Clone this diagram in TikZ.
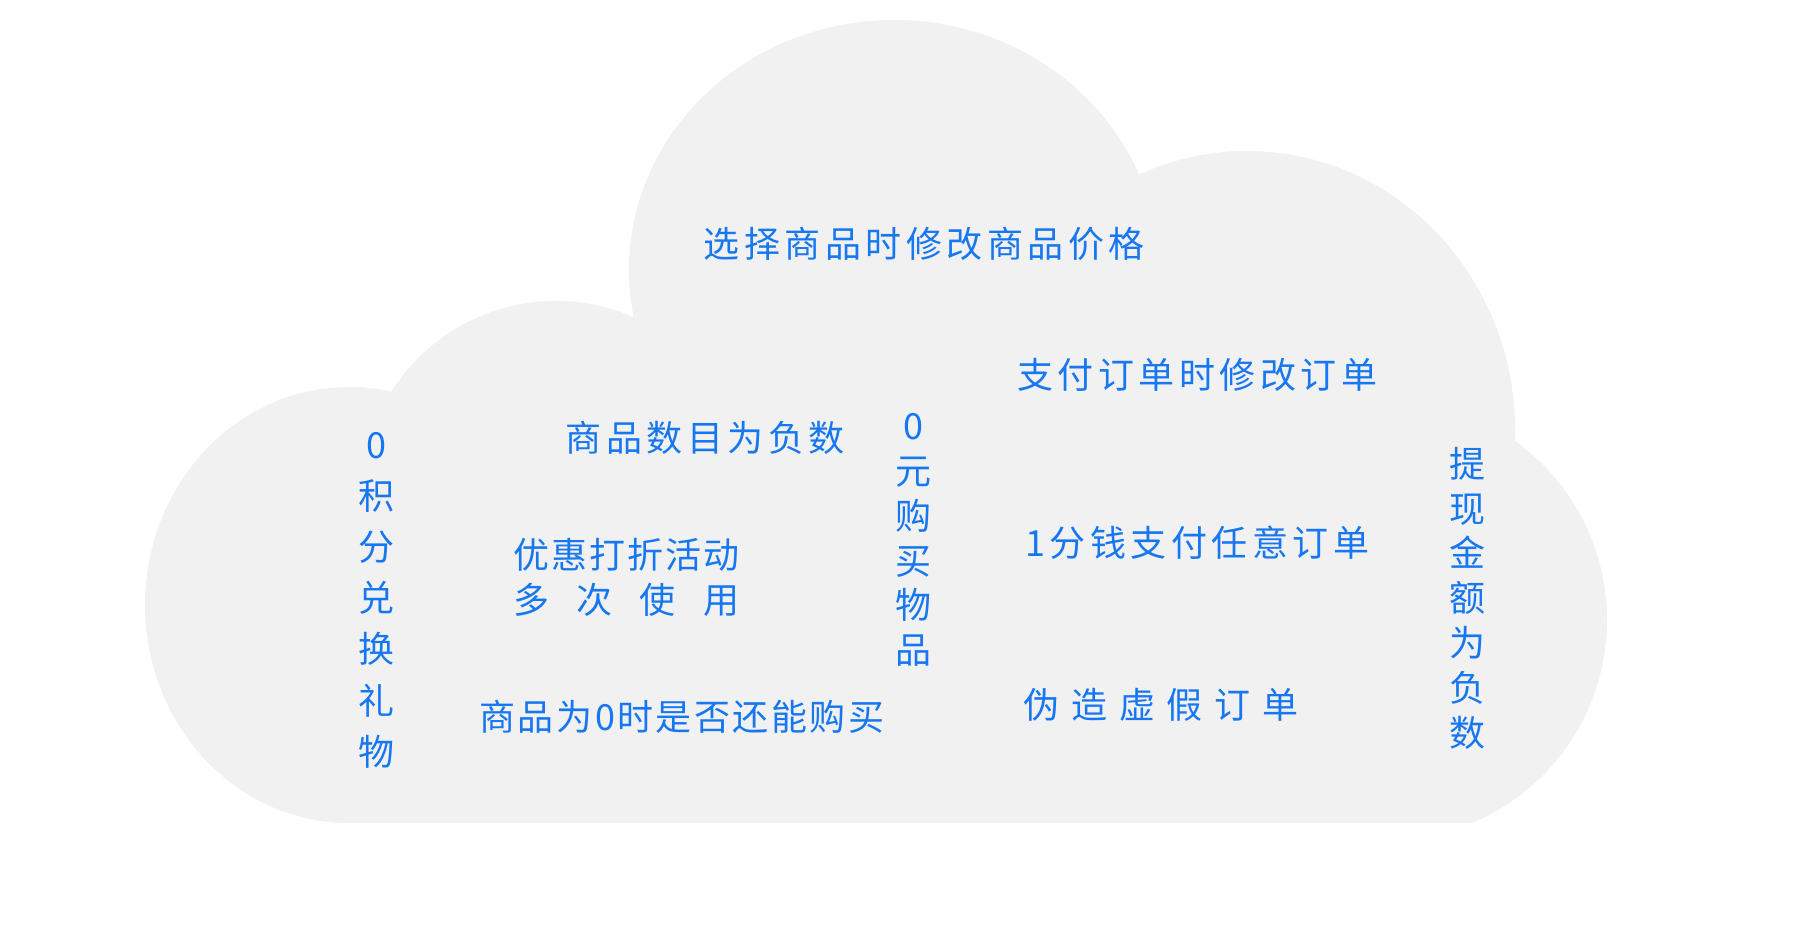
\documentclass[tikz,border=0pt]{standalone}
\usepackage{fontspec}
\newfontfamily\cjk{Noto Sans CJK SC}
\definecolor{cloudgray}{HTML}{F1F1F1}
\definecolor{txtblue}{HTML}{1677F0}
\newlength\yhw
\def\trkend{TRKEND}
\newcommand\trk[2][4.5pt]{\def\trkamt{#1}\trkaux#2\trkend}
\def\trkaux#1{#1\futurelet\trknext\trkcheck}
\def\trkcheck{\ifx\trknext\trkend\expandafter\trkgobble\else\hspace{\trkamt}\expandafter\trkaux\fi}
\def\trkgobble#1{}
\tikzset{
  cloudpart/.style={fill=cloudgray, draw=none},
  lbl/.style={inner sep=0pt, text=txtblue, font=\cjk\fontsize{36pt}{44pt}\selectfont},
  vlbl/.style={lbl, align=center, font=\cjk\fontsize{36pt}{44.8pt}\selectfont},
}
\begin{document}
\begin{tikzpicture}[x=1pt, y=-1pt]
\useasboundingbox (0,0) rectangle (1802,924);
\fill[white] (0,0) rectangle (1802,924);
% cloud
\begin{scope}
  \clip (0,0) rectangle (1802,822);
  \fill[cloudpart] (349,605) ellipse [x radius=204pt, y radius=218pt];
  \fill[cloudpart] (556,496) circle [radius=195pt];
  \fill[cloudpart] (894,270) ellipse [x radius=265pt, y radius=250pt];
  \fill[cloudpart] (1247,430) ellipse [x radius=268pt, y radius=279pt];
  \fill[cloudpart] (1387,620) circle [radius=220pt];
  \fill[cloudpart] (349,400) rectangle (1387,840);
\end{scope}
% labels
\node[lbl] (t1) at (924,244) {\trk{选择商品时修改商品价格}};
\node[lbl] (t2) at (1197,375) {\trk{支付订单时修改订单}};
\node[lbl] (t3) at (1197,543) {\trk{1分钱支付任意订单}};
\node[lbl] (t4) at (1161,705) {\trk[11.8pt]{伪造虚假订单}};
\node[lbl] (t5) at (705,438) {\trk{商品数目为负数}};
\node[lbl, anchor=west] (t6a) at (513,555) {\trk[2pt]{优惠打折活动}};
\node[lbl, anchor=west] (t6b) at (513,600) {\settowidth\yhw{\trk[2pt]{优惠打折活动}}\makebox[\yhw][s]{多\hfill 次\hfill 使\hfill 用}};
\node[lbl] (t7) at (682,717) {\trk[2.5pt]{商品为0时是否还能购买}};
\node[vlbl, font=\cjk\fontsize{36pt}{51.2pt}\selectfont] (v1) at (376,600) {0\\积\\分\\兑\\换\\礼\\物};
\node[vlbl] (v2) at (913,540) {0\\元\\购\\买\\物\\品};
\node[vlbl] (v3) at (1467,598) {提\\现\\金\\额\\为\\负\\数};
\end{tikzpicture}
\end{document}
